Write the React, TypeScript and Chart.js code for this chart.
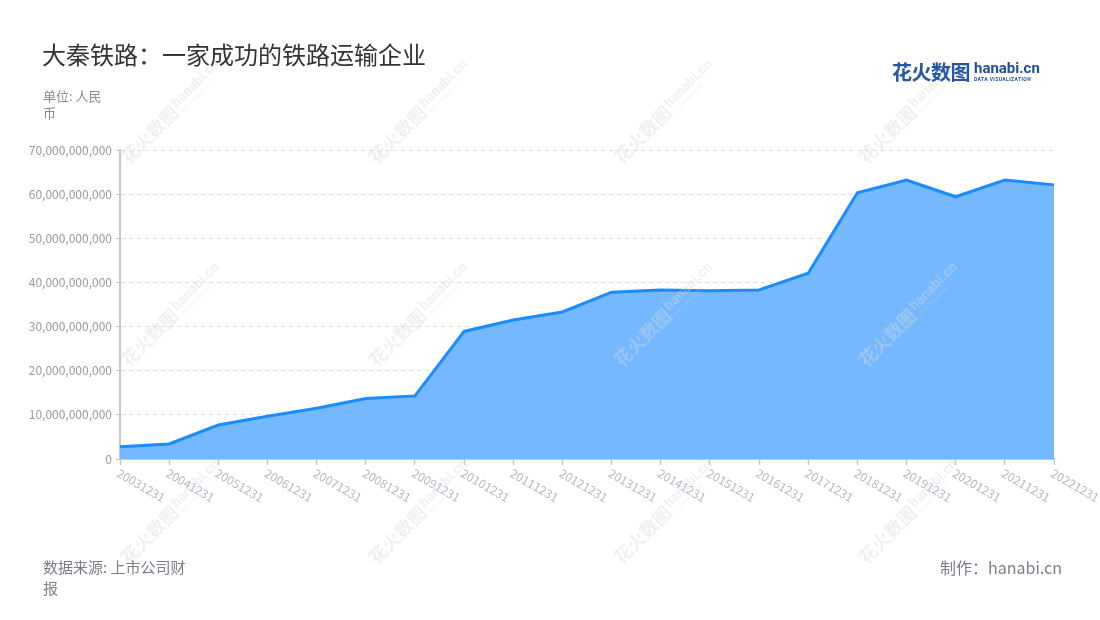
import React, { useEffect, useRef } from "react";
import { Chart, registerables } from "chart.js";

Chart.register(...registerables);

const categories: string[] = [
  "20031231", "20041231", "20051231", "20061231", "20071231", "20081231", "20091231",
  "20101231", "20111231", "20121231", "20131231", "20141231", "20151231", "20161231",
  "20171231", "20181231", "20191231", "20201231", "20211231", "20221231",
];

const revenue: number[] = [
  2.8e9, 3.4e9, 7.7e9, 9.7e9, 11.5e9, 13.7e9, 14.3e9,
  28.9e9, 31.5e9, 33.3e9, 37.8e9, 38.3e9, 38.1e9, 38.3e9,
  42.1e9, 60.3e9, 63.2e9, 59.4e9, 63.2e9, 62.1e9,
];

const yTicks: number[] = [0, 1e10, 2e10, 3e10, 4e10, 5e10, 6e10, 7e10];

const title = "大秦铁路：一家成功的铁路运输企业";
const unitText = "单位: 人民币";
const sourceText = "数据来源: 上市公司财报";
const creditText = "制作：hanabi.cn";

const FONT = '"Noto Sans CJK SC", "Noto Sans", sans-serif';

const watermarkCenters: [number, number][] = [
  [172, 112], [420, 112], [665, 112], [910, 112],
  [172, 315], [420, 315], [665, 315], [910, 315],
  [172, 512], [420, 512], [665, 512], [910, 512],
];

function drawWatermark(ctx: CanvasRenderingContext2D, cx: number, cy: number) {
  ctx.save();
  ctx.translate(cx, cy);
  ctx.rotate(-Math.PI / 4);
  ctx.fillStyle = "rgba(215,215,220,0.38)";
  ctx.textBaseline = "middle";
  ctx.textAlign = "left";
  ctx.font = `bold 18px ${FONT}`;
  ctx.fillText("花火数图", -68, 0);
  ctx.font = `bold 14px Roboto, sans-serif`;
  ctx.fillText("hanabi.cn", 6, -3);
  ctx.font = `4px Roboto, sans-serif`;
  ctx.fillText("DATA VISUALIZATION", 7, 7);
  ctx.restore();
}

const xLabelPlugin = {
  id: "xLabelPlugin",
  afterDraw(chart: any) {
    const xs = chart.scales.x;
    const ctx: CanvasRenderingContext2D = chart.ctx;
    ctx.save();
    ctx.font = `12px ${FONT}`;
    ctx.fillStyle = "#b5b9c5";
    ctx.textAlign = "left";
    ctx.textBaseline = "middle";
    categories.forEach((lab, i) => {
      const x = xs.getPixelForTick(i);
      ctx.save();
      ctx.translate(x - 2, xs.top + 13);
      ctx.rotate(Math.PI / 6);
      ctx.fillText(lab, 0, 0);
      ctx.restore();
    });
    ctx.restore();
  },
};

const watermarkPlugin = {
  id: "watermarkPlugin",
  afterDraw(chart: any) {
    const ctx: CanvasRenderingContext2D = chart.ctx;
    watermarkCenters.forEach(([x, y]) => drawWatermark(ctx, x, y));
  },
};

export default function App() {
  const canvasRef = useRef<HTMLCanvasElement | null>(null);

  useEffect(() => {
    document.body.style.margin = "0";
    const canvas = canvasRef.current;
    if (!canvas) return;
    const chart = new Chart(canvas, {
      type: "line",
      data: {
        labels: categories,
        datasets: [
          {
            data: revenue,
            borderColor: "#1a8cff",
            backgroundColor: "#74b9ff",
            borderWidth: 3,
            fill: "origin",
            tension: 0,
            pointRadius: 0,
            pointHoverRadius: 0,
          },
        ],
      },
      options: {
        animation: false,
        responsive: false,
        maintainAspectRatio: false,
        layout: { padding: { top: 150, right: 46, left: 0, bottom: 0 } },
        plugins: {
          legend: { display: false },
          title: { display: false },
          tooltip: { enabled: false },
        },
        scales: {
          x: {
            type: "category",
            offset: false,
            ticks: { display: false },
            grid: {
              drawOnChartArea: false,
              drawTicks: true,
              tickLength: 6,
              tickColor: "#c8c8c8",
              tickWidth: 1.5,
            },
            border: { display: true, color: "#c8c8c8", width: 2 },
            afterFit: (s: any) => {
              s.height = 161;
            },
          },
          y: {
            min: 0,
            max: 70e9,
            afterBuildTicks: (s: any) => {
              s.ticks = yTicks.map((v) => ({ value: v }));
            },
            ticks: {
              padding: 4,
              color: "#9a9a9a",
              font: { family: FONT, size: 12 },
              callback: (v: any) => Number(v).toLocaleString("en-US"),
            },
            grid: {
              color: "#dddddd",
              lineWidth: 1,
              drawTicks: true,
              tickLength: 4,
              tickColor: "#c8c8c8",
              tickBorderDash: [],
            },
            border: { display: true, color: "#c8c8c8", width: 2, dash: [4, 4] },
            afterFit: (s: any) => {
              s.width = 120;
            },
          },
        },
      },
      plugins: [xLabelPlugin, watermarkPlugin],
    } as any);
    return () => chart.destroy();
  }, []);

  return (
    <div style={{ position: "relative", width: 1100, height: 620, background: "#fff", fontFamily: FONT, overflow: "hidden" }}>
      <canvas ref={canvasRef} width={1100} height={620} style={{ position: "absolute", left: 0, top: 0, width: 1100, height: 620 }} />
      <div style={{ position: "absolute", left: 42, top: 37, fontSize: 24, lineHeight: "34px", color: "#333", whiteSpace: "nowrap" }}>{title}</div>
      <div style={{ position: "absolute", left: 43, top: 87, width: 64, fontSize: 13, lineHeight: "17px", color: "#8a8a8a" }}>{unitText}</div>
      <div style={{ position: "absolute", left: 43, top: 556, width: 150, fontSize: 15, lineHeight: "21px", color: "#7b7e8a" }}>{sourceText}</div>
      <div style={{ position: "absolute", right: 38, top: 556, fontSize: 16, lineHeight: "22px", color: "#7b7e8a", whiteSpace: "nowrap" }}>{creditText}</div>
      <div style={{ position: "absolute", left: 892, top: 58, display: "flex", alignItems: "flex-start" }}>
        <div style={{ fontSize: 20, lineHeight: "28px", fontWeight: 700, color: "#2456a6", letterSpacing: -0.5 }}>花火数图</div>
        <div style={{ marginLeft: 4, marginTop: 3 }}>
          <div style={{ fontFamily: "Roboto, sans-serif", fontSize: 15, lineHeight: "15px", fontWeight: 700, color: "#1f4e9c" }}>hanabi.cn</div>
          <div style={{ fontFamily: "Roboto, sans-serif", fontSize: 5, lineHeight: "7px", letterSpacing: 0.4, color: "#1f4e9c", fontWeight: 700 }}>DATA VISUALIZATION</div>
        </div>
      </div>
    </div>
  );
}
